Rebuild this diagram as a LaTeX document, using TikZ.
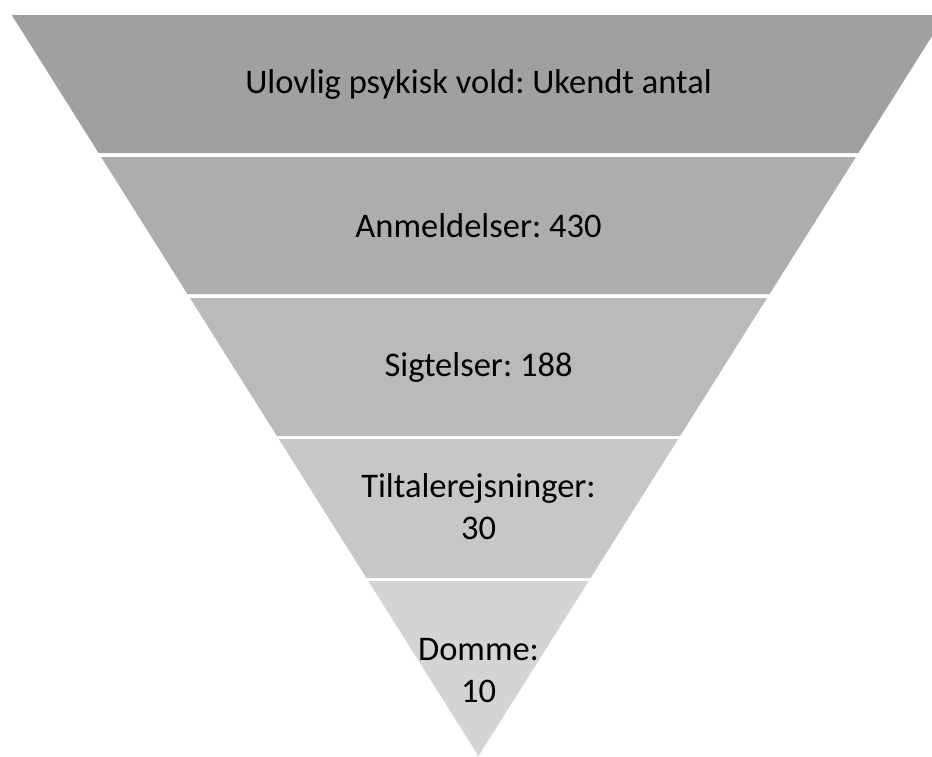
\documentclass[tikz,border=0pt]{standalone}
\usepackage{fontspec}
\setmainfont{Carlito}
\frenchspacing
\definecolor{bandA}{RGB}{160,160,160}
\definecolor{bandB}{RGB}{173,173,173}
\definecolor{bandC}{RGB}{186,186,186}
\definecolor{bandD}{RGB}{199,199,199}
\definecolor{bandE}{RGB}{212,212,212}
\tikzset{
  lbl/.style={align=center, text=black, inner sep=0pt, font=\fontsize{34.5}{42}\selectfont},
}
\begin{document}
\begin{tikzpicture}[x=1pt,y=-1pt]
\useasboundingbox (0,0) rectangle (932,756);
\clip (0,0) rectangle (932,756);
\fill[white] (0,0) rectangle (932,756);
\fill[bandA] (11.7,15) -- (945.3,15) -- (858.4,153) -- (98.6,153) -- cycle;
\fill[bandB] (101.1,157) -- (855.9,157) -- (769.6,294) -- (187.4,294) -- cycle;
\fill[bandC] (190,298) -- (767,298) -- (680.1,436) -- (276.9,436) -- cycle;
\fill[bandD] (278.8,439) -- (678.2,439) -- (590.6,578) -- (366.4,578) -- cycle;
\fill[bandE] (368.3,581) -- (588.7,581) -- (478.5,756) -- cycle;
\node[lbl] (t1) at (478.5,84) {Ulovlig psykisk vold: Ukendt antal};
\node[lbl] (t2) at (478.5,226) {Anmeldelser: 430};
\node[lbl] (t3) at (478.5,367) {Sigtelser: 188};
\node[lbl] (t4) at (478.5,507) {Tiltalerejsninger:\\30};
\node[lbl] (t5) at (478.5,671) {Domme:\\10};
\end{tikzpicture}
\end{document}
